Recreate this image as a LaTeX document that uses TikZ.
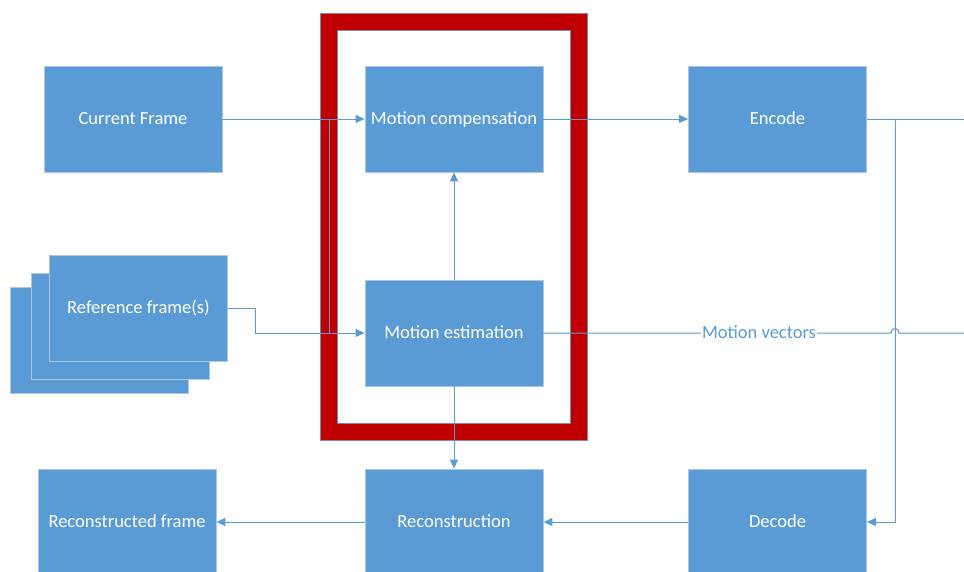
\documentclass[tikz,border=0pt]{standalone}
\usepackage{fontspec}
\setmainfont{Carlito}
\usetikzlibrary{arrows.meta}
\definecolor{boxblue}{HTML}{5B9BD5}
\definecolor{edgeblue}{HTML}{A9C7E8}
\definecolor{linkblue}{HTML}{5B9BD5}
\definecolor{frred}{HTML}{C00000}
\definecolor{frline}{HTML}{7A8AA8}
\begin{document}
\begin{tikzpicture}[x=1pt,y=-1pt,
  blk/.style={draw=edgeblue, line width=0.8pt, fill=boxblue, minimum width=178pt, minimum height=106pt, inner sep=0pt, text=white, text height=13.5pt, text depth=3.5pt, font=\fontsize{18.5}{20}\selectfont},
  link/.style={draw=linkblue, line width=1pt},
  arr/.style={link, -{Triangle[length=9pt,width=8pt]}},
  lbl/.style={fill=white, text=linkblue, inner sep=1.5pt, text height=13.5pt, text depth=3.5pt, font=\fontsize{18.5}{20}\selectfont}]
\clip (0,0) rectangle (964,571);
\fill[white] (0,0) rectangle (964,571);
% red frame
\fill[frred, even odd rule] (320,13) rectangle (587,440) (337,30) rectangle (570,423);
\draw[frline, line width=0.6pt] (320,13) rectangle (587,440) (337,30) rectangle (570,423);
% boxes
\node[blk] (cur) at (133,119) {Current Frame};
\node[blk] (mc) at (454,119) {Motion compensation};
\node[blk] (enc) at (777.5,119) {Encode};
\node[blk] (ref3) at (99,340) {};
\node[blk] (ref2) at (120.5,326) {};
\node[blk] (ref) at (138.5,308) {Reference frame(s)};
\node[blk] (me) at (454,333) {Motion estimation};
\node[blk] (recf) at (127,522) {Reconstructed frame};
\node[blk] (rec) at (454,522) {Reconstruction};
\node[blk] (dec) at (777.5,522) {Decode};
% connectors
\coordinate (ja) at (329,119);
\coordinate (jb) at (329,333);
\coordinate (rb) at (255,308);
\coordinate (encout) at (964,119);
\coordinate (jx) at (895,119);
\coordinate (hopa) at (891,333);
\coordinate (hopb) at (899,333);
\coordinate (mvout) at (964,333);
\draw[arr] (cur.east) -- (mc.west);
\draw[arr] (ref.east) -- (rb) |- (me.west);
\draw[link] (ja) -- (jb);
\draw[arr] (me.north) -- (mc.south);
\draw[arr] (me.south) -- (rec.north);
\draw[arr] (mc.east) -- (enc.west);
\draw[link] (enc.east) -- (encout);
\draw[arr] (jx) |- (dec.east);
\draw[link] (me.east) -- (hopa) .. controls (891,327) and (899,327) .. (hopb) -- (mvout);
\node[lbl] (mv) at (759,333) {Motion vectors};
\draw[arr] (dec.west) -- (rec.east);
\draw[arr] (rec.west) -- (recf.east);
\end{tikzpicture}
\end{document}
